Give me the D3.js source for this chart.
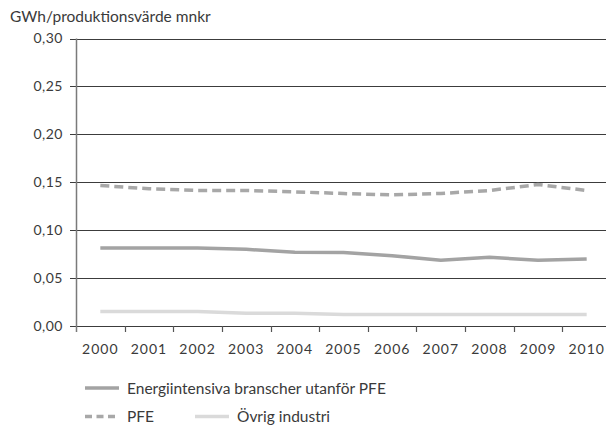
<!DOCTYPE html>
<html>
<head>
<meta charset="utf-8">
<script src="https://cdn.jsdelivr.net/npm/d3@7"></script>
<style>
  body { margin: 0; background: #fff; }
  svg text { font-family: Lato, "Open Sans", sans-serif; fill: #3a3a3a; }
</style>
</head>
<body>
<div id="chart"></div>
<script>
// Data
const years = ["2000", "2001", "2002", "2003", "2004", "2005", "2006", "2007", "2008", "2009", "2010"];
const energiintensiva = [0.0814, 0.0814, 0.0814, 0.0800, 0.0769, 0.0766, 0.0734, 0.0686, 0.0717, 0.0686, 0.0700];
const pfe = [0.1466, 0.1432, 0.1414, 0.1414, 0.1400, 0.1382, 0.1368, 0.1383, 0.1414, 0.1476, 0.1414];
const ovrig = [0.0152, 0.0152, 0.0152, 0.0134, 0.0134, 0.0120, 0.0120, 0.0120, 0.0120, 0.0120, 0.0120];
const yTicks = [0, 0.05, 0.10, 0.15, 0.20, 0.25, 0.30];

const series = [
  {name: "Energiintensiva branscher utanför PFE", values: energiintensiva, color: "#a3a3a3", dash: null},
  {name: "PFE", values: pfe, color: "#a8a8a8", dash: "9,5"},
  {name: "Övrig industri", values: ovrig, color: "#dadada", dash: null}
];

const width = 606, height = 426;
const margin = {top: 38.5, left: 76, bottom: 100};

const svg = d3.select("#chart")
  .append("svg")
    .attr("width", width)
    .attr("height", height);

// Scales
const x = d3.scaleBand()
  .domain(years)
  .range([margin.left, 611]);

const y = d3.scaleLinear()
  .domain([0, 0.30])
  .range([326, margin.top]);

const fmt = d3.format(".2f");

// y label
svg.append("text")
  .attr("x", 10)
  .attr("y", 22)
  .style("font-size", "15.5px")
  .text("GWh/produktionsvärde mnkr");

// gridlines
svg.append("g")
  .selectAll("line")
  .data(yTicks)
  .join("line")
    .attr("x1", margin.left - 6)
    .attr("x2", width)
    .attr("y1", d => Math.round(y(d)) + 0.5)
    .attr("y2", d => Math.round(y(d)) + 0.5)
    .attr("stroke", "#3c3c3c")
    .attr("stroke-width", 1);

// y tick labels
svg.append("g")
  .selectAll("text")
  .data(yTicks)
  .join("text")
    .attr("x", 63)
    .attr("y", d => y(d) + 4.5)
    .attr("text-anchor", "end")
    .style("font-size", "14px")
    .style("letter-spacing", "0.5px")
    .text(d => fmt(d).replace(".", ","));

// y axis line
svg.append("line")
  .attr("x1", margin.left + 0.5)
  .attr("x2", margin.left + 0.5)
  .attr("y1", y(0.30))
  .attr("y2", 332)
  .attr("stroke", "#7a7a7a")
  .attr("stroke-width", 1.5);

// x axis ticks (band edges) and labels
svg.append("g")
  .selectAll("line")
  .data(years.slice(1))
  .join("line")
    .attr("x1", d => Math.round(x(d)) + 0.5)
    .attr("x2", d => Math.round(x(d)) + 0.5)
    .attr("y1", 326)
    .attr("y2", 332)
    .attr("stroke", "#555")
    .attr("stroke-width", 1.2);

svg.append("g")
  .selectAll("text")
  .data(years)
  .join("text")
    .attr("x", d => x(d) + x.bandwidth() / 2)
    .attr("y", 354)
    .attr("text-anchor", "middle")
    .style("font-size", "14px")
    .style("letter-spacing", "1px")
    .text(d => d);

// lines
const line = d3.line()
  .x((d, i) => x(years[i]) + x.bandwidth() / 2)
  .y(d => y(d));

svg.append("g")
  .selectAll("path")
  .data(series.slice().reverse())
  .join("path")
    .attr("d", d => line(d.values))
    .attr("fill", "none")
    .attr("stroke", d => d.color)
    .attr("stroke-width", 3.5)
    .attr("stroke-dasharray", d => d.dash);

// legend
const legend = [
  {s: series[0], x: 85, y: 388},
  {s: series[1], x: 85, y: 416.5},
  {s: series[2], x: 195, y: 416.5}
];

const lg = svg.append("g")
  .selectAll("g")
  .data(legend)
  .join("g")
    .attr("transform", d => `translate(${d.x},${d.y})`);

lg.append("line")
  .attr("x1", 0)
  .attr("x2", 34)
  .attr("stroke", d => d.s.color)
  .attr("stroke-width", 3.5)
  .attr("stroke-dasharray", d => d.s.dash ? "7,4.5" : null);

lg.append("text")
  .attr("x", 42)
  .attr("y", 5.5)
  .style("font-size", "15.5px")
  .text(d => d.s.name);
</script>
</body>
</html>
